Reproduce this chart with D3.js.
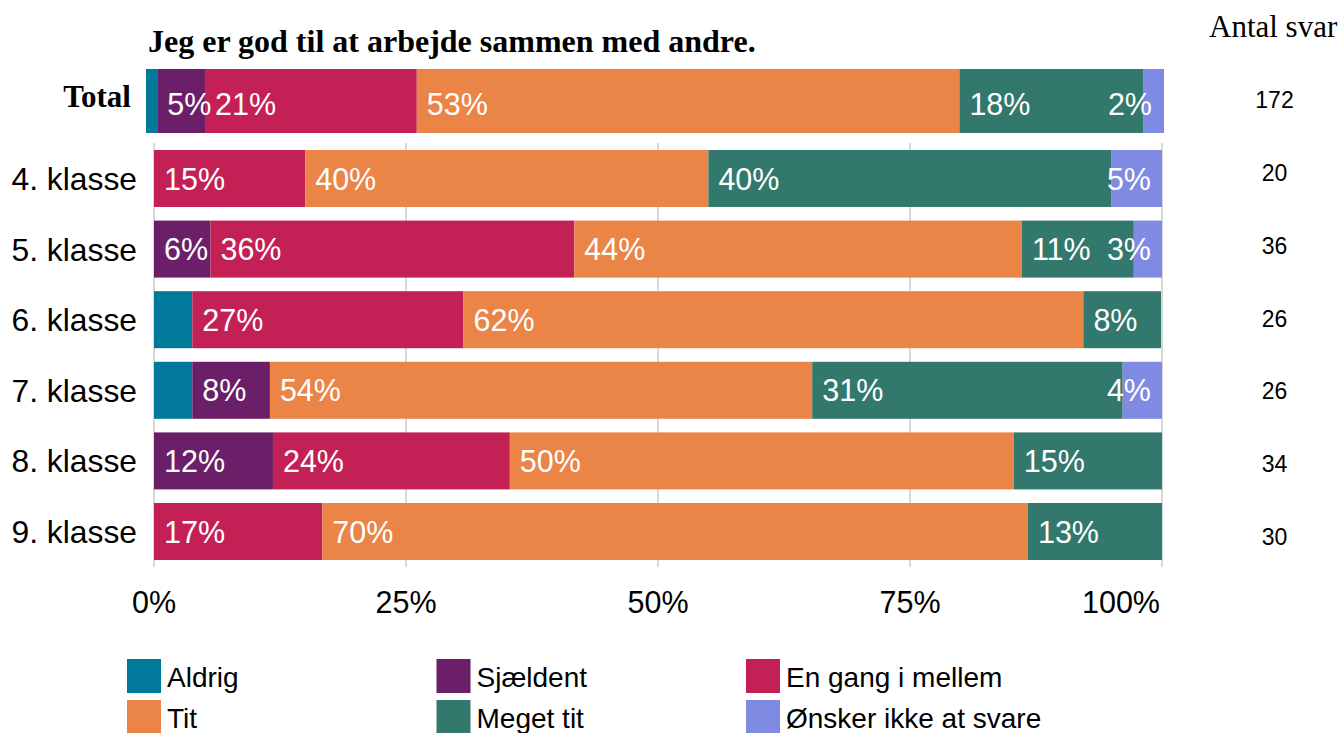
<!DOCTYPE html>
<html lang="da">
<head>
<meta charset="utf-8">
<script src="https://cdn.jsdelivr.net/npm/d3@7"></script>
<style>
  html, body { margin: 0; padding: 0; background: #fff; }
  svg { display: block; }
  .sans { font-family: "Liberation Sans", Arial, sans-serif; }
  .serif { font-family: "Liberation Serif", "Times New Roman", serif; }
</style>
</head>
<body>
<svg id="chart" width="1343" height="733"></svg>
<script>
// Response categories, in stacking order
const series = ["Aldrig", "Sjældent", "En gang i mellem", "Tit", "Meget tit", "Ønsker ikke at svare"];
const colors = ["#00799a", "#6a1f68", "#c32056", "#ea8447", "#32786c", "#7f8be2"];
// Aldrig segments carry no value label
const showLabel = [false, true, true, true, true, true];

// Grade rows
const grades = ["4. klasse", "5. klasse", "6. klasse", "7. klasse", "8. klasse", "9. klasse"];
const gradeResponses = [20, 36, 26, 26, 34, 30];

// Share of answers (%) per grade, one array per grade in series order
const klasse4 = [0, 0, 15.0, 40.0, 40.0, 5.0];
const klasse5 = [0, 5.6, 36.1, 44.4, 11.1, 2.8];
const klasse6 = [3.8, 0, 26.9, 61.5, 7.7, 0];
const klasse7 = [3.8, 7.7, 0, 53.8, 30.8, 3.9];
const klasse8 = [0, 11.8, 23.5, 50.0, 14.7, 0];
const klasse9 = [0, 0, 16.7, 70.0, 13.3, 0];
const gradeValues = [klasse4, klasse5, klasse6, klasse7, klasse8, klasse9];

// All grades together
const totalLabel = "Total";
const totalValues = [1.1, 4.7, 20.8, 53.3, 18.1, 2.0];
const totalResponses = 172;

const axisTicks = [0, 25, 50, 75, 100];
const title = "Jeg er god til at arbejde sammen med andre.";
const countHeader = "Antal svar";

const svg = d3.select("#chart");
const fmt = v => d3.format(".0f")(v) + "%";

// Scales
const x = d3.scaleLinear().domain([0, 100]).range([154, 1162]);
const xTotal = d3.scaleLinear().domain([0, 100]).range([146, 1164]);
const y = d3.scaleBand().domain(grades).range([143.2, 566.8]).paddingInner(0.1926).paddingOuter(0.0963);
const totalTop = 69, totalHeight = 64;
const yCount = d3.scalePoint().domain([totalLabel, ...grades]).range([100, 537]);

// Gridlines behind the grade bars
svg.append("g")
  .selectAll("line")
  .data(axisTicks)
  .join("line")
  .attr("x1", d => x(d)).attr("x2", d => x(d))
  .attr("y1", 143).attr("y2", 567)
  .attr("stroke", "#c9ccd1")
  .attr("stroke-width", 1.5);

// Stack helper: turns a row of shares into [start, end] segments
function segments(values) {
  let acc = 0;
  return values.map((v, i) => {
    const s = { i, v, x0: acc, x1: acc + v };
    acc += v;
    return s;
  });
}

// Draw one stacked bar with its labels
function drawBar(g, values, scale, top, height, labelDy, endPad) {
  const segs = segments(values).filter(s => s.v > 0);
  g.selectAll("rect")
    .data(segs)
    .join("rect")
    .attr("x", d => scale(d.x0))
    .attr("y", top)
    .attr("width", d => scale(d.x1) - scale(d.x0))
    .attr("height", height)
    .attr("fill", d => colors[d.i]);

  const barEnd = scale(100) - endPad;
  g.selectAll("text")
    .data(segs.filter(d => showLabel[d.i]))
    .join("text")
    .attr("class", "sans")
    .attr("font-size", 30.5)
    .attr("fill", "#fff")
    .attr("y", top + height / 2 + labelDy)
    .text(d => fmt(d.v))
    .each(function (d) {
      const t = d3.select(this);
      const w = this.getComputedTextLength();
      const start = scale(d.x0) + 10;
      if (start + w > barEnd) {
        t.attr("x", barEnd).attr("text-anchor", "end");
      } else {
        t.attr("x", start).attr("text-anchor", "start");
      }
    });
}

// Total bar
drawBar(svg.append("g"), totalValues, xTotal, totalTop, totalHeight, 14, 12);

// Grade bars
grades.forEach((gr, k) => {
  drawBar(svg.append("g"), gradeValues[k], x, y(gr), y.bandwidth(), 11, 11);
});

// Row labels
svg.append("text")
  .attr("class", "serif")
  .attr("font-size", 31)
  .attr("font-weight", "bold")
  .attr("text-anchor", "end")
  .attr("x", 131)
  .attr("y", 107)
  .text(totalLabel);

svg.append("g")
  .selectAll("text")
  .data(grades)
  .join("text")
  .attr("class", "sans")
  .attr("font-size", 31.8)
  .attr("text-anchor", "end")
  .attr("x", 137)
  .attr("y", d => y(d) + y.bandwidth() / 2 + 11.5)
  .text(d => d);

// Response counts
svg.append("text")
  .attr("class", "serif")
  .attr("font-size", 31)
  .attr("x", 1209)
  .attr("y", 37)
  .text(countHeader);

svg.append("g")
  .selectAll("text")
  .data([[totalLabel, totalResponses], ...grades.map((g, k) => [g, gradeResponses[k]])])
  .join("text")
  .attr("class", "sans")
  .attr("font-size", 23)
  .attr("text-anchor", "middle")
  .attr("x", 1274.5)
  .attr("y", d => yCount(d[0]) + 8)
  .text(d => d[1]);

// Title
svg.append("text")
  .attr("class", "serif")
  .attr("font-size", 32)
  .attr("font-weight", "bold")
  .attr("x", 148)
  .attr("y", 52)
  .text(title);

// Percentage axis
svg.append("g")
  .selectAll("text")
  .data(axisTicks)
  .join("text")
  .attr("class", "sans")
  .attr("font-size", 30.5)
  .attr("text-anchor", d => d === 100 ? "end" : "middle")
  .attr("x", d => d === 100 ? x(d) - 2 : x(d))
  .attr("y", 613)
  .text(d => d + "%");

// Legend: three columns, two rows
const legend = svg.append("g")
  .selectAll("g")
  .data(series)
  .join("g")
  .attr("transform", (d, i) => `translate(${127 + (i % 3) * 309.5},${659 + Math.floor(i / 3) * 41})`);

legend.append("rect")
  .attr("width", 34).attr("height", 34)
  .attr("fill", (d, i) => colors[i]);

legend.append("text")
  .attr("class", "sans")
  .attr("font-size", 28)
  .attr("x", 40)
  .attr("y", 28)
  .text(d => d);
</script>
</body>
</html>
